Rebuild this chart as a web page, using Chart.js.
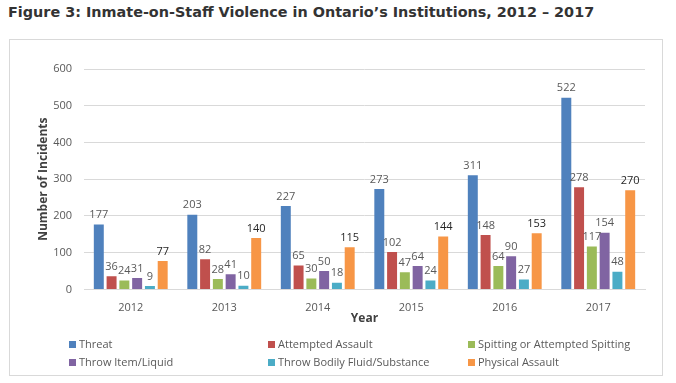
<!DOCTYPE html>
<html><head><meta charset="utf-8">
<script src="https://cdn.jsdelivr.net/npm/chart.js@4/dist/chart.umd.min.js"></script>
<style>
html,body{margin:0;padding:0;background:#fff;width:676px;height:383px;overflow:hidden;}
#title{position:absolute;left:8px;top:4px;font-family:"DejaVu Sans",sans-serif;font-weight:bold;font-size:14.4px;color:#333;white-space:nowrap;}
#frame{position:absolute;left:9px;top:39px;width:652px;height:335px;border:1px solid #d9d9d9;}
#wrap{position:absolute;left:10px;top:40px;width:652px;height:335px;}
.lg{position:absolute;font-family:"Open Sans",sans-serif;font-size:11px;color:#595959;white-space:nowrap;line-height:14px;}
.lg span{display:inline-block;width:7px;height:7px;margin-right:3px;vertical-align:0px;}
</style></head>
<body>
<div id="title">Figure 3: Inmate-on-Staff Violence in Ontario’s Institutions, 2012 – 2017</div>
<div id="frame"></div>
<div id="wrap"><canvas id="c" width="652" height="335"></canvas></div>
<div id="legend"></div>
<script>
const years = ["2012","2013","2014","2015","2016","2017"];
const seriesNames = ["Threat","Attempted Assault","Spitting or Attempted Spitting","Throw Item/Liquid","Throw Bodily Fluid/Substance","Physical Assault"];
const threat = [177,203,227,273,311,522];
const attemptedAssault = [36,82,65,102,148,278];
const spitting = [24,28,30,47,64,117];
const throwItem = [31,41,50,64,90,154];
const throwFluid = [9,10,18,24,27,48];
const physicalAssault = [77,140,115,144,153,270];
const yTicks = [0,100,200,300,400,500,600];
const colors = ["#4f81bd","#c0504d","#9bbb59","#8064a2","#4bacc6","#f79646"];
const allSeries = [threat,attemptedAssault,spitting,throwItem,throwFluid,physicalAssault];

const labelPlugin = {
  id:'vals',
  afterDatasetsDraw(chart){
    const ctx = chart.ctx;
    ctx.save();
    ctx.font = '11px "Open Sans", sans-serif';
    ctx.textAlign='center';
    ctx.textBaseline='bottom';
    chart.data.datasets.forEach((ds,i)=>{
      const meta = chart.getDatasetMeta(i);
      ctx.fillStyle = i===5 ? '#262626' : '#595959';
      meta.data.forEach((bar,j)=>{
        ctx.fillText(String(ds.data[j]), bar.x, bar.y-4);
      });
    });
    ctx.restore();
  }
};

const chart = new Chart(document.getElementById('c'),{
  type:'bar',
  data:{labels:years,datasets:seriesNames.map((n,i)=>({label:n,data:allSeries[i],backgroundColor:colors[i],categoryPercentage:0.82,barPercentage:0.78}))},
  options:{
    responsive:false,animation:false,
    layout:{padding:{left:26,top:29,right:17,bottom:49}},
    plugins:{legend:{display:false},tooltip:{enabled:false}},
    scales:{
      x:{grid:{display:false},border:{color:'#d9d9d9'},
         ticks:{color:'#595959',font:{family:'"Open Sans", sans-serif',size:11},padding:4},
         title:{display:true,text:'Year',color:'#404040',font:{family:'"Open Sans", sans-serif',size:12,weight:'bold'},padding:{top:-7,bottom:0}}},
      y:{min:0,max:600,afterBuildTicks(s){s.ticks=yTicks.map(v=>({value:v}));},
         grid:{color:'#d9d9d9',drawTicks:false},border:{display:false},
         ticks:{color:'#595959',font:{family:'"Open Sans", sans-serif',size:11},padding:12},
         title:{display:true,text:'Number of Incidents',color:'#404040',font:{family:'"Open Sans", sans-serif',size:12,weight:'bold'},padding:{top:0,bottom:0}},
         afterFit(s){s.width=48;}}
    }
  },
  plugins:[labelPlugin]
});

const legendPos = [[69,337],[268,337],[468,337],[69,355],[268,355],[468,355]];
const lg = document.getElementById('legend');
seriesNames.forEach((n,i)=>{
  const d=document.createElement('div');d.className='lg';
  d.style.left=legendPos[i][0]+'px';d.style.top=legendPos[i][1]+'px';
  d.innerHTML='<span style="background:'+colors[i]+'"></span>'+n;
  lg.appendChild(d);
});
</script>
</body></html>
